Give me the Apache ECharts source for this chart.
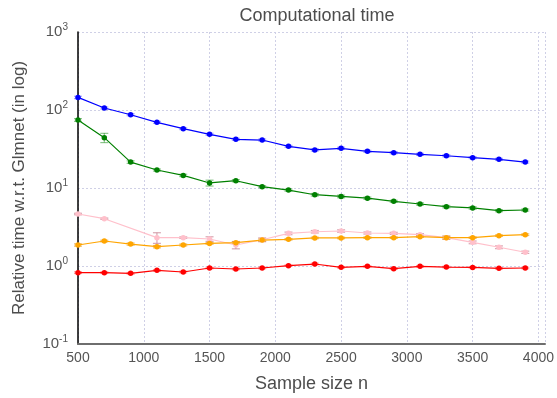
<!DOCTYPE html>
<html><head><meta charset="utf-8">
<script src="https://cdn.jsdelivr.net/npm/echarts@6/dist/echarts.min.js"></script>
<style>html,body{margin:0;padding:0;background:#fff}#c{width:557px;height:398px}</style>
</head><body><div id="c"></div>
<script>
const sampleSizes = [500,700,900,1100,1300,1500,1700,1900,2100,2300,2500,2700,2900,3100,3300,3500,3700,3900];
const blueVals   = [145,106,87,69.5,57.6,48.8,42.1,41.2,34.2,30.8,32.3,29.5,28.4,27,25.9,24.5,23.3,21.5];
const greenVals  = [74.5,44.2,21.5,17.0,14.5,11.6,12.4,10.4,9.4,8.2,7.8,7.4,6.75,6.24,5.77,5.55,5.12,5.22];
const pinkVals   = [4.64,4.04,null,2.31,2.31,2.22,1.86,2.17,2.62,2.75,2.81,2.65,2.62,2.52,2.31,2.01,1.74,1.50];
const orangeVals = [1.86,2.09,1.91,1.77,1.86,1.95,1.99,2.15,2.2,2.29,2.29,2.31,2.31,2.38,2.31,2.31,2.45,2.52];
const redVals    = [0.822,0.822,0.805,0.88,0.838,0.943,0.915,0.943,1.01,1.06,0.962,0.99,0.924,0.99,0.97,0.96,0.934,0.943];
const blueErr   = [5,3,2.5,2,1.5,1.5,1.3,1.2,1,1,1,0.9,0.9,0.8,0.8,0.7,0.7,0.6];
const greenErr  = [3,6,0.8,0.5,0.5,1.0,0.4,0.3,0.3,0.3,0.3,0.25,0.2,0.2,0.2,0.2,0.15,0.15];
const pinkErr   = [0.1,0.08,null,0.36,0.05,0.15,0.2,0.12,0.1,0.1,0.1,0.08,0.08,0.08,0.1,0.08,0.07,0.05];
const orangeErr = [0.06,0.05,0.06,0.06,0.05,0.05,0.05,0.06,0.05,0.05,0.05,0.05,0.05,0.05,0.1,0.05,0.05,0.06];
const redErr    = [0.02,0.02,0.02,0.02,0.02,0.02,0.02,0.02,0.02,0.025,0.02,0.02,0.02,0.02,0.02,0.02,0.02,0.02];
const yTicks = [0.1,1,10,100,1000];
const yTickExp = ['-1','0','1','2','3'];

const seriesDefs = [
  {name:'blue', vals: blueVals, err: blueErr, color:'#0000ff', errColor:'rgba(0,0,255,0.35)'},
  {name:'green', vals: greenVals, err: greenErr, color:'#008000', errColor:'rgba(0,128,0,0.45)'},
  {name:'pink', vals: pinkVals, err: pinkErr, color:'#ffc0cb', errColor:'rgba(200,130,145,0.7)'},
  {name:'orange', vals: orangeVals, err: orangeErr, color:'#ffa500', errColor:'rgba(220,140,0,0.6)'},
  {name:'red', vals: redVals, err: redErr, color:'#ff0000', errColor:'rgba(255,0,0,0.4)'}
];

const series = [];
seriesDefs.forEach(d => {
  const errData = [];
  sampleSizes.forEach((x,i) => {
    if (d.vals[i] != null) errData.push([x, d.vals[i]-d.err[i], d.vals[i]+d.err[i]]);
  });
  series.push({
    type:'custom', name: d.name + '-err', data: errData, z: 2,
    renderItem: function(params, api){
      const x = api.value(0);
      const lo = api.coord([x, api.value(1)]);
      const hi = api.coord([x, api.value(2)]);
      const w = 4;
      const st = {stroke: d.errColor, lineWidth: 1.2};
      return {type:'group', children:[
        {type:'line', shape:{x1:lo[0],y1:lo[1],x2:hi[0],y2:hi[1]}, style: st},
        {type:'line', shape:{x1:lo[0]-w,y1:lo[1],x2:lo[0]+w,y2:lo[1]}, style: st},
        {type:'line', shape:{x1:hi[0]-w,y1:hi[1],x2:hi[0]+w,y2:hi[1]}, style: st}
      ]};
    }
  });
  series.push({
    type:'line', name: d.name, data: sampleSizes.map((x,i)=>[x,d.vals[i]]),
    connectNulls: true, symbol:'circle', symbolSize:5.5, z: 3,
    lineStyle:{color:d.color, width:1.2}, itemStyle:{color:d.color},
    emphasis:{disabled:true}
  });
});

const chart = echarts.init(document.getElementById('c'), null, {renderer:'canvas'});
chart.setOption({
  animation:false,
  backgroundColor:'#fff',
  title:{text:'Computational time', left:312, top:2, textAlign:'center',
    textStyle:{fontFamily:'Liberation Sans', fontSize:18, fontWeight:'normal', color:'#4d4d4d'}},
  grid:{left:78, right:12, top:32, bottom:54},
  xAxis:{type:'value', min:500, max:4050, interval:500,
    name:'Sample size n', nameLocation:'middle', nameGap:31,
    nameTextStyle:{fontFamily:'Liberation Sans', fontSize:18, color:'#4d4d4d'},
    axisLine:{show:true, lineStyle:{color:'#6e6e6e', width:2}},
    axisTick:{show:false},
    axisLabel:{showMaxLabel:false, fontFamily:'Liberation Sans', fontSize:14, color:'#555', margin:7,
      formatter: v => String(v)},
    splitLine:{show:true, lineStyle:{color:'#cfd0e6', type:[2,2], width:1}}
  },
  yAxis:{type:'log', logBase:10, min:0.1, max:1000,
    name:'Relative time w.r.t. Glmnet (in log)', nameLocation:'middle', nameGap:50,
    nameTextStyle:{fontFamily:'Liberation Sans', fontSize:17, color:'#4d4d4d'},
    axisLine:{show:true, onZero:false, lineStyle:{color:'#000', width:1.5}},
    axisTick:{show:false},
    axisLabel:{fontFamily:'Liberation Sans', color:'#555', margin:10,
      formatter: function(v){
        const idx = yTicks.findIndex(t => Math.abs(Math.log10(t) - Math.log10(v)) < 1e-6);
        if (idx < 0) return '';
        return '{b|10}{s|' + yTickExp[idx] + '}';
      },
      rich:{
        b:{fontFamily:'Liberation Sans', fontSize:15, color:'#555'},
        s:{fontFamily:'Liberation Sans', fontSize:10, color:'#555', padding:[0,0,10,0]}
      }
    },
    splitLine:{show:true, lineStyle:{color:'#cfd0e6', type:[2,2], width:1}}
  },
  series: series
});
</script></body></html>
